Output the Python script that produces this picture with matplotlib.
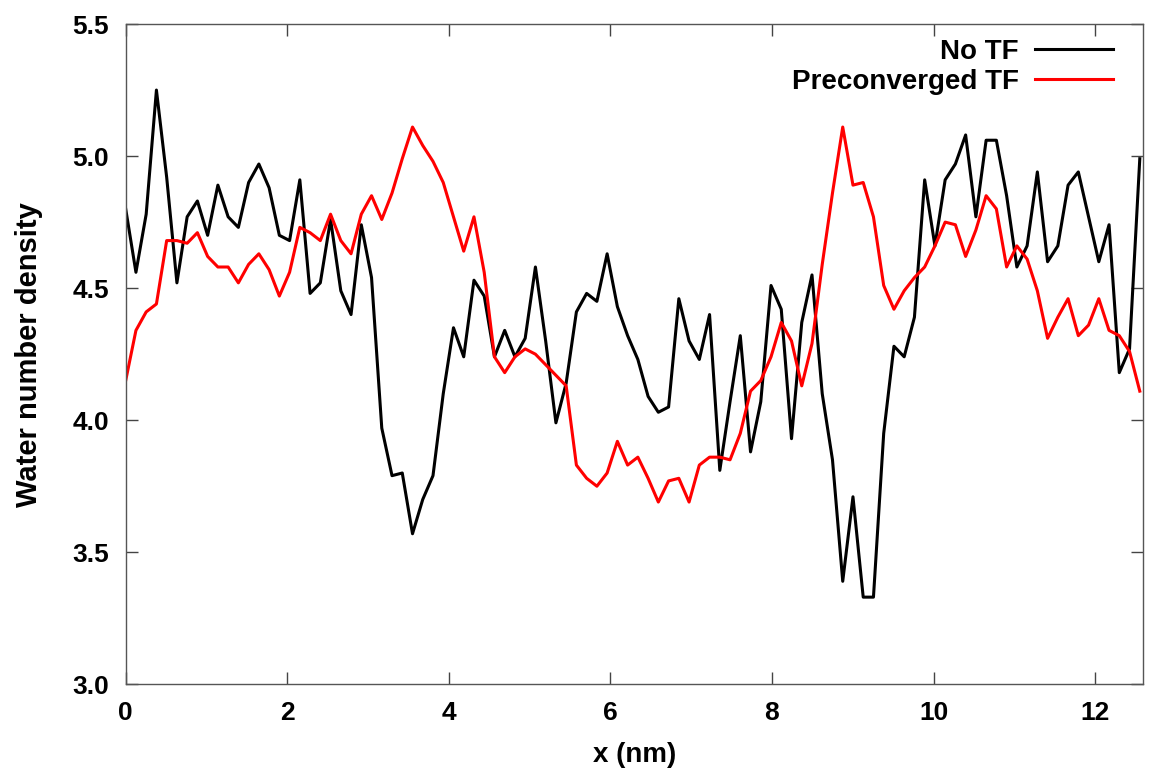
import numpy as np
import matplotlib
matplotlib.use("Agg")
import matplotlib.pyplot as plt

# water density profiles along x, 100 bins
dx = 0.1268
no_tf = [4.80, 4.56, 4.78, 5.25, 4.92, 4.52, 4.77, 4.83, 4.70, 4.89,
         4.77, 4.73, 4.90, 4.97, 4.88, 4.70, 4.68, 4.91, 4.48, 4.52,
         4.76, 4.49, 4.40, 4.74, 4.54, 3.97, 3.79, 3.80, 3.57, 3.70,
         3.79, 4.10, 4.35, 4.24, 4.53, 4.47, 4.24, 4.34, 4.24, 4.31,
         4.58, 4.30, 3.99, 4.14, 4.41, 4.48, 4.45, 4.63, 4.43, 4.32,
         4.23, 4.09, 4.03, 4.05, 4.46, 4.30, 4.23, 4.40, 3.81, 4.07,
         4.32, 3.88, 4.07, 4.51, 4.42, 3.93, 4.37, 4.55, 4.10, 3.85,
         3.39, 3.71, 3.33, 3.33, 3.95, 4.28, 4.24, 4.39, 4.91, 4.66,
         4.91, 4.97, 5.08, 4.77, 5.06, 5.06, 4.85, 4.58, 4.66, 4.94,
         4.60, 4.66, 4.89, 4.94, 4.77, 4.60, 4.74, 4.18, 4.27, 4.99]
precon_tf = [4.15, 4.34, 4.41, 4.44, 4.68, 4.68, 4.67, 4.71, 4.62, 4.58,
             4.58, 4.52, 4.59, 4.63, 4.57, 4.47, 4.56, 4.73, 4.71, 4.68,
             4.78, 4.68, 4.63, 4.78, 4.85, 4.76, 4.86, 4.99, 5.11, 5.04,
             4.98, 4.90, 4.77, 4.64, 4.77, 4.56, 4.24, 4.18, 4.24, 4.27,
             4.25, 4.21, 4.17, 4.13, 3.83, 3.78, 3.75, 3.80, 3.92, 3.83,
             3.86, 3.78, 3.69, 3.77, 3.78, 3.69, 3.83, 3.86, 3.86, 3.85,
             3.95, 4.11, 4.15, 4.24, 4.37, 4.30, 4.13, 4.29, 4.59, 4.86,
             5.11, 4.89, 4.90, 4.77, 4.51, 4.42, 4.49, 4.54, 4.58, 4.66,
             4.75, 4.74, 4.62, 4.72, 4.85, 4.80, 4.58, 4.66, 4.61, 4.49,
             4.31, 4.39, 4.46, 4.32, 4.36, 4.46, 4.34, 4.32, 4.26, 4.11]
x = np.arange(len(no_tf)) * dx

xticks = [0, 2, 4, 6, 8, 10, 12]
yticks = [3.0, 3.5, 4.0, 4.5, 5.0, 5.5]

plt.rcParams['font.family'] = ['Liberation Sans', 'DejaVu Sans']
plt.rcParams['font.weight'] = 'bold'

fig = plt.figure(figsize=(11.5, 7.7), dpi=100)
ax = fig.add_axes([0.1093, 0.1113, 0.8844, 0.8575])

ax.plot(x, no_tf, color='black', lw=2.2, label='No TF')
ax.plot(x, precon_tf, color='#ff0000', lw=2.2, label='Preconverged TF')

ax.set_xlim(0, 12.59)
ax.set_ylim(3.0, 5.5)
ax.set_xticks(xticks)
ax.set_yticks(yticks)
ax.set_xticklabels([str(t) for t in xticks])
ax.set_yticklabels(['%.1f' % t for t in yticks])
ax.tick_params(direction='in', length=8.5, width=1, color='#444444',
               top=True, right=True, labelsize=19, pad=12)
for s in ax.spines.values():
    s.set_color('#555555')
    s.set_linewidth(1)

ax.set_xlabel('x (nm)', fontsize=20, fontweight='bold')
ax.xaxis.set_label_coords(0.5, -0.088)
ax.set_ylabel('Water number density', fontsize=21, fontweight='bold')
ax.yaxis.set_label_coords(-0.081, 0.5)

ax.legend(loc='upper right', bbox_to_anchor=(0.971, 0.977), frameon=False,
          markerfirst=False, handlelength=2.8, handletextpad=0.6,
          borderpad=0, borderaxespad=0, labelspacing=0.12,
          prop={'weight': 'bold', 'size': 20})

fig.savefig('out.png', dpi=100)
